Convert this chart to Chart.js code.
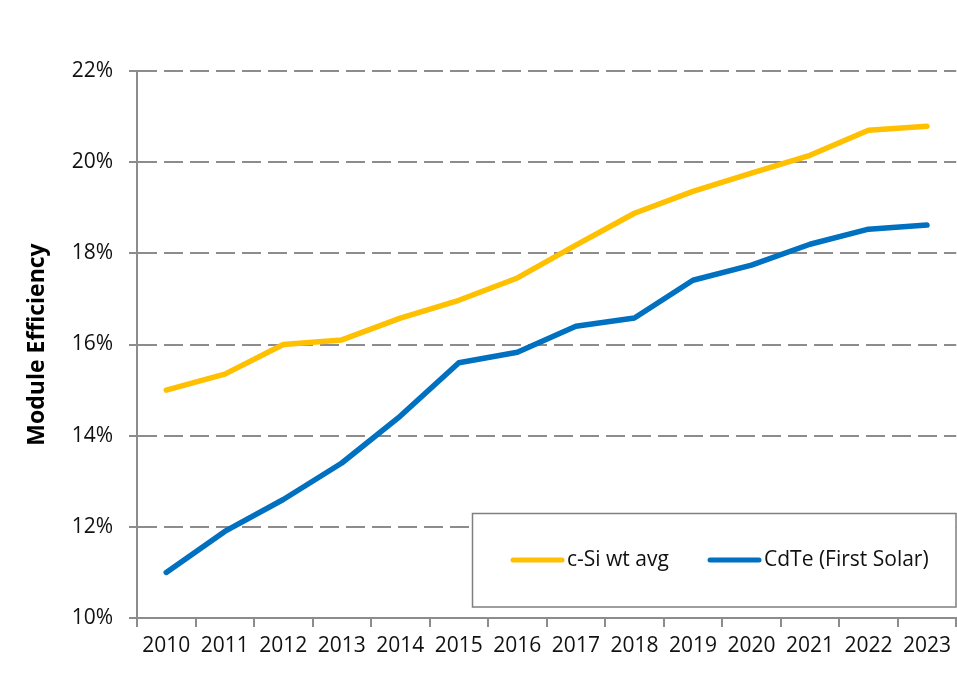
<!DOCTYPE html>
<html>
<head>
<meta charset="utf-8">
<script src="https://cdn.jsdelivr.net/npm/chart.js@4/dist/chart.umd.min.js"></script>
<style>
  html, body { margin: 0; padding: 0; background: #fff; }
  #wrap { width: 957px; height: 686px; }
</style>
</head>
<body>
<div id="wrap"><canvas id="myChart"></canvas></div>
<script>
// dados
const years = ["2010", "2011", "2012", "2013", "2014", "2015", "2016", "2017", "2018", "2019", "2020", "2021", "2022", "2023"];
const cSi = [15.0, 15.35, 16.0, 16.1, 16.58, 16.97, 17.46, 18.18, 18.88, 19.36, 19.76, 20.15, 20.7, 20.79];
const cdTe = [11.0, 11.9, 12.6, 13.4, 14.43, 15.6, 15.83, 16.4, 16.58, 17.41, 17.74, 18.2, 18.53, 18.62];
const yTicks = [10, 12, 14, 16, 18, 20, 22];

const FONT = "'Open Sans', 'Noto Sans', sans-serif";
const GRID = '#8c8c8c';
const TXT = '#111';

// legenda desenhada dentro da área do gráfico
const boxLegend = {
    id: 'boxLegend',
    afterDatasetsDraw(chart) {
        const ctx = chart.ctx;
        const ds = chart.data.datasets;
        ctx.save();
        ctx.fillStyle = '#fff';
        ctx.fillRect(472, 513, 484, 94);
        ctx.strokeStyle = '#7f7f7f';
        ctx.lineWidth = 1.5;
        ctx.strokeRect(472.5, 513.5, 483.5, 93.5);
        const items = [{ x: 513 }, { x: 710 }];
        ctx.font = '21px ' + FONT;
        ctx.textBaseline = 'middle';
        items.forEach((it, i) => {
            ctx.strokeStyle = ds[i].borderColor;
            ctx.lineWidth = 5;
            ctx.lineCap = 'round';
            ctx.beginPath();
            ctx.moveTo(it.x, 560);
            ctx.lineTo(it.x + 49, 560);
            ctx.stroke();
            ctx.fillStyle = TXT;
            ctx.fillText(ds[i].label, it.x + 54, 560);
        });
        ctx.restore();
    }
};

const config = {
    type: 'line',
    data: {
        labels: years,
        datasets: [
            { label: 'c-Si wt avg', data: cSi, borderColor: '#FFC000', borderWidth: 5.5 },
            { label: 'CdTe (First Solar)', data: cdTe, borderColor: '#0070C0', borderWidth: 5.5 }
        ]
    },
    options: {
        responsive: true,
        maintainAspectRatio: false,
        animation: false,
        layout: { padding: { top: 71, right: 0, left: 0, bottom: 0 } },
        elements: {
            point: { radius: 0, hoverRadius: 0 },
            line: { tension: 0, borderCapStyle: 'round', borderJoinStyle: 'round' }
        },
        plugins: { legend: { display: false }, tooltip: { enabled: false } },
        scales: {
            x: {
                offset: true,
                grid: { display: true, drawOnChartArea: false, drawTicks: true, tickLength: 9, color: GRID, lineWidth: 2, offset: true },
                border: { display: true, color: GRID, width: 2 },
                ticks: { color: TXT, font: { family: FONT, size: 21 }, padding: 6, maxRotation: 0, autoSkip: false },
                afterFit(scale) { scale.height = 68; }
            },
            y: {
                min: 10,
                max: 22,
                afterBuildTicks(scale) { scale.ticks = yTicks.map(v => ({ value: v })); },
                grid: { color: GRID, lineWidth: 2, tickLength: 8, tickColor: GRID, tickBorderDash: [] },
                border: { display: true, color: GRID, width: 2, dash: [19, 7] },
                ticks: {
                    color: TXT,
                    font: { family: FONT, size: 21 },
                    padding: 16,
                    callback: v => v + '%'
                },
                title: {
                    display: true,
                    text: 'Module Efficiency',
                    color: '#000',
                    font: { family: FONT, size: 23, weight: 'bold' },
                    padding: { top: 24, bottom: 0 }
                },
                afterFit(scale) { scale.width = 137; }
            }
        }
    },
    plugins: [boxLegend]
};

new Chart(document.getElementById('myChart'), config);
</script>
</body>
</html>
